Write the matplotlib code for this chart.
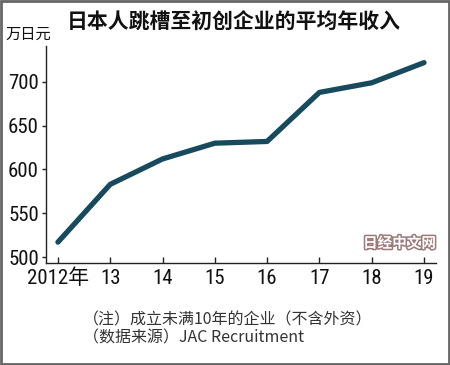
import matplotlib
matplotlib.use('Agg')
import matplotlib.pyplot as plt
import matplotlib.patheffects as pe
from matplotlib.patches import Rectangle
from matplotlib import font_manager

installed = set(f.name for f in font_manager.fontManager.ttflist)
narrow = [n for n in ['Liberation Sans Narrow', 'DejaVu Sans Condensed', 'Roboto Condensed',
                      'Open Sans Condensed', 'Noto Sans Condensed'] if n in installed]
plt.rcParams['font.family'] = narrow[:1] + ['Noto Sans CJK SC', 'DejaVu Sans']

years = [2012, 2013, 2014, 2015, 2016, 2017, 2018, 2019]
year_labels = ['2012年', '13', '14', '15', '16', '17', '18', '19']
income = [517, 583, 612, 630, 632, 688, 699, 722]
yticks = [500, 550, 600, 650, 700]

title = '日本人跳槽至初创企业的平均年收入'
unit_label = '万日元'
note1 = '（注）成立未满10年的企业（不含外资）'
note2 = '（数据来源）JAC Recruitment'
cjk = ['Noto Sans CJK SC', 'DejaVu Sans']

fig = plt.figure(figsize=(4.5, 3.65), dpi=100)
ax = fig.add_axes([0.102, 0.279, 0.867, 0.595])

ax.plot(years, income, color='#174a5c', lw=3.8, solid_capstyle='round', solid_joinstyle='round')

ax.set_xlim(2011.77, 2019.23)
ax.set_ylim(493, 741)
ax.set_xticks(years)
ax.set_xticklabels(year_labels)
ax.set_yticks(yticks)

for s in ['top', 'right']:
    ax.spines[s].set_visible(False)
for s in ['left', 'bottom']:
    ax.spines[s].set_color('#222222')
    ax.spines[s].set_linewidth(1.0)

ax.tick_params(axis='x', direction='in', length=4, width=1, labelsize=15, pad=4, colors='#222222')
ax.tick_params(axis='y', direction='out', length=3, width=1, labelsize=15, pad=2, colors='#222222')
for lab in ax.get_xticklabels() + ax.get_yticklabels():
    lab.set_color('#111111')

fig.text(0.52, 0.94, title, ha='center', va='center', fontsize=15, fontweight='bold',
         family=cjk, color='#111111')
fig.text(0.012, 0.905, unit_label, ha='left', va='center', fontsize=11, family=cjk, color='#111111')

fig.text(0.185, 0.123, note1, ha='left', va='center', fontsize=11.5, family=cjk,
         color='#333333', fontweight='light')
fig.text(0.185, 0.073, note2, ha='left', va='center', fontsize=11.5, family=cjk,
         color='#333333', fontweight='light')

wm = fig.text(0.888, 0.335, '日经中文网', ha='center', va='center', fontsize=10.5, fontweight='bold',
              family=cjk, color='#ffffff')
wm.set_path_effects([pe.withStroke(linewidth=2.2, foreground='#9a7a7a')])

fig.patches.append(Rectangle((0.002, 0.003), 0.995, 0.994, transform=fig.transFigure,
                             fill=False, edgecolor='#666666', lw=2))

fig.savefig('out.png', dpi=100)
